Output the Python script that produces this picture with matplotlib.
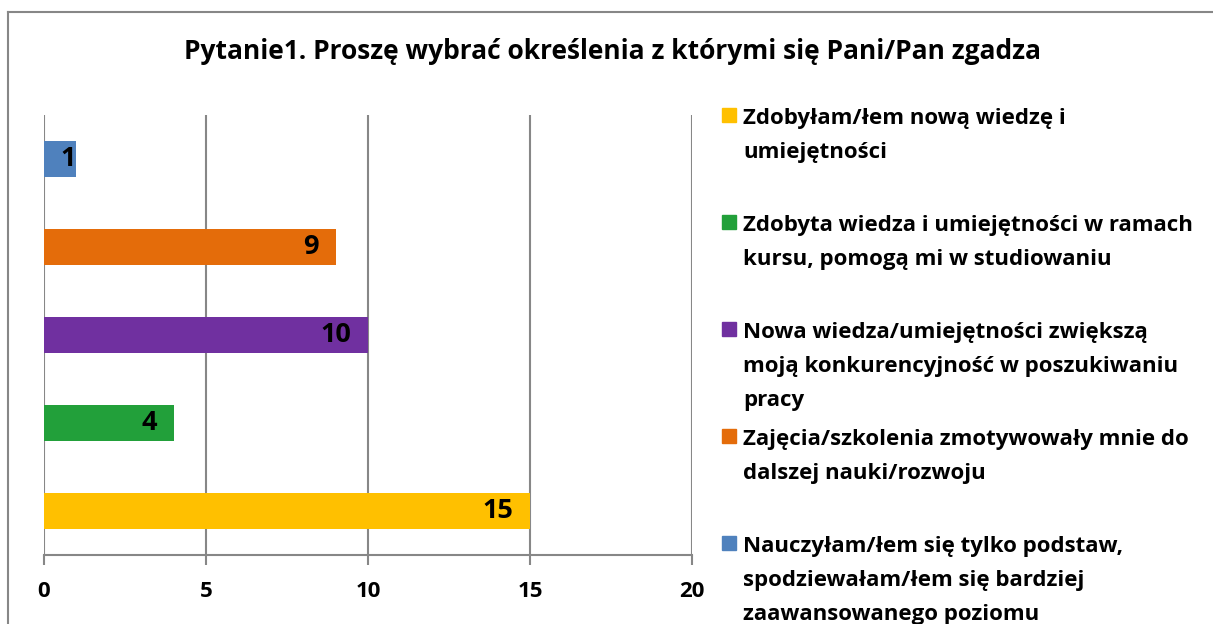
import matplotlib
matplotlib.use("Agg")
import matplotlib.pyplot as plt
import numpy as np
from matplotlib.lines import Line2D
from matplotlib.patches import Rectangle

# Data, bottom bar first (same order as the legend from top)
labels = [
    "Zdobyłam/łem nową wiedzę i\numiejętności",
    "Zdobyta wiedza i umiejętności w ramach\nkursu, pomogą mi w studiowaniu",
    "Nowa wiedza/umiejętności zwiększą\nmoją konkurencyjność w poszukiwaniu\npracy",
    "Zajęcia/szkolenia zmotywowały mnie do\ndalszej nauki/rozwoju",
    "Nauczyłam/łem się tylko podstaw,\nspodziewałam/łem się bardziej\nzaawansowanego poziomu",
]
values = [15, 4, 10, 9, 1]
colors = ["#FFC000", "#22A03A", "#7030A0", "#E46C0A", "#4F81BD"]
xticks = [0, 5, 10, 15, 20]

title = "Pytanie1. Proszę wybrać określenia z którymi się Pani/Pan zgadza"

plt.rcParams['font.family'] = ['Open Sans', 'DejaVu Sans']
plt.rcParams['font.weight'] = 'bold'

W, H = 1213, 624
fig = plt.figure(figsize=(W / 100, H / 100), dpi=100)


def fx(px):
    return px / W


def fy(py):
    return 1 - py / H


grid_col = "#878787"

# outer chart frame (cropped at right and bottom)
fig.add_artist(Line2D([fx(8), fx(8)], [fy(12), -0.1], transform=fig.transFigure,
                      color=grid_col, lw=1.5))
fig.add_artist(Line2D([fx(8), 1.1], [fy(12), fy(12)], transform=fig.transFigure,
                      color=grid_col, lw=1.5))

ax = fig.add_axes([fx(44), fy(555), fx(692) - fx(44), fy(115) - fy(555)])
y = np.arange(len(values))
bars = ax.barh(y, values, height=0.41, color=colors, zorder=3)

ax.set_xlim(0, 20)
ax.set_ylim(-0.5, len(values) - 0.5)
ax.set_xticks(xticks)
ax.set_yticks([])
ax.xaxis.grid(True, color=grid_col, lw=1.5, zorder=0)
ax.tick_params(axis='x', length=7, width=1.5, color=grid_col, pad=12,
               labelsize=16)
for lbl in ax.get_xticklabels():
    lbl.set_fontweight('bold')
for s in ['top', 'right', 'left']:
    ax.spines[s].set_visible(False)
ax.spines['bottom'].set_color(grid_col)
ax.spines['bottom'].set_linewidth(1.5)

# value labels, inside end
for yi, v in zip(y, values):
    if v < 2:
        ax.annotate(str(v), (0, yi), xytext=(12, 0), textcoords='offset points',
                    ha='left', va='center', fontsize=19.5, fontweight='bold', zorder=4)
    else:
        ax.annotate(str(v), (v, yi), xytext=(-12, 0), textcoords='offset points',
                    ha='right', va='center', fontsize=19.5, fontweight='bold', zorder=4)

fig.text(fx(612.5), fy(59), title, ha='center', va='baseline', fontsize=19,
         fontweight='bold')

# legend, drawn by hand to keep Excel's spacing
leg_base = 124
leg_step = 107
line_step = 34
for i, (lab, col) in enumerate(zip(labels, colors)):
    yb = leg_base + i * leg_step
    fig.add_artist(Rectangle((fx(722), fy(yb - 2)), fx(14), 14 / H,
                             transform=fig.transFigure, color=col))
    for j, line in enumerate(lab.split("\n")):
        fig.text(fx(743), fy(yb + j * line_step), line, ha='left', va='baseline',
                 fontsize=16, fontweight='bold')

fig.savefig("out.png", dpi=100)
